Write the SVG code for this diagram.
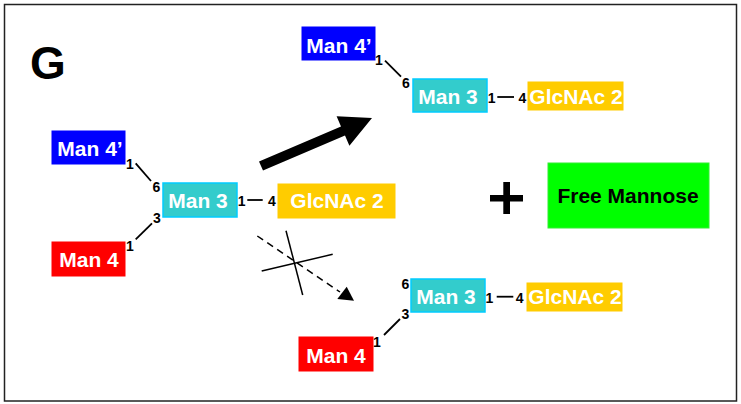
<svg xmlns="http://www.w3.org/2000/svg" width="741" height="404" viewBox="0 0 741 404">
<defs>
<style>
.t{font-family:"Liberation Sans",Arial,sans-serif;font-weight:bold;font-size:21px;fill:#fff;text-anchor:middle}
.n{font-family:"Liberation Sans",Arial,sans-serif;font-weight:bold;font-size:14px;fill:#000;text-anchor:middle}
.blue{fill:#0000FF;stroke:#0000FF}
.red{fill:#FF0000;stroke:#FF0000}
.cyan{fill:#33CCCC;stroke:#00CCFF;stroke-width:1.5}
.yel{fill:#FFCC00;stroke:#FFCC00}
.ln{stroke:#000;stroke-width:1.8;fill:none}
</style>
</defs>
<rect x="0" y="0" width="741" height="404" fill="#fff"/>
<rect x="4.5" y="4.5" width="732" height="396.5" fill="none" stroke="#222" stroke-width="1.5"/>
<text x="30" y="79" font-family="Liberation Sans,Arial,sans-serif" font-weight="bold" font-size="46" fill="#000">G</text>

<g id="left-man4p"><rect class="blue" x="52" y="131" width="73" height="33"/><text class="t" x="90" y="156">Man 4’</text></g>
<g id="left-man3"><rect class="cyan" x="163" y="183" width="74" height="34"/><text class="t" x="198" y="208">Man 3</text></g>
<g id="left-glcnac"><rect class="yel" x="278" y="184" width="117" height="34"/><text class="t" x="337" y="208">GlcNAc 2</text></g>
<g id="left-man4"><rect class="red" x="52" y="242" width="73" height="34"/><text class="t" x="89" y="267">Man 4</text></g>

<g id="top-man4p"><rect class="blue" x="302" y="27" width="73" height="33"/><text class="t" x="339" y="53">Man 4’</text></g>
<g id="top-man3"><rect class="cyan" x="413" y="79" width="74" height="33"/><text class="t" x="448" y="104">Man 3</text></g>
<g id="top-glcnac"><rect class="yel" x="528" y="82" width="95" height="28"/><text class="t" x="576" y="104">GlcNAc 2</text></g>

<g id="bot-man3"><rect class="cyan" x="411" y="279" width="74" height="33"/><text class="t" x="446" y="304">Man 3</text></g>
<g id="bot-glcnac"><rect class="yel" x="527" y="283" width="95" height="28"/><text class="t" x="575" y="304">GlcNAc 2</text></g>
<g id="bot-man4"><rect class="red" x="299" y="337" width="74" height="34"/><text class="t" x="336" y="363">Man 4</text></g>

<g id="free-mannose"><rect x="548" y="163" width="161" height="65" fill="#00FF00" stroke="#33EE33" stroke-width="1"/><text class="t" x="628" y="203" style="fill:#000">Free Mannose</text></g>
<g id="plus"><rect x="490" y="195" width="33" height="6.5" fill="#000"/><rect x="503.3" y="182" width="6.7" height="32" fill="#000"/></g>

<g id="connectors">
<line class="ln" x1="135.7" y1="163.3" x2="151" y2="181"/>
<line class="ln" x1="135.7" y1="239.3" x2="152" y2="223.3"/>
<line class="ln" x1="247.3" y1="200" x2="262.7" y2="200"/>
<line class="ln" x1="385" y1="60.7" x2="401" y2="76.7"/>
<line class="ln" x1="497.3" y1="97" x2="514" y2="97"/>
<line class="ln" x1="384" y1="335" x2="400" y2="319"/>
<line class="ln" x1="496.7" y1="296.7" x2="513.3" y2="296.7"/>
<polygon points="263,170.6 259,161.4 341,126.4 336.6,116.3 372,118 349.4,145.7 345,135.6" fill="#000"/>
<line x1="257.3" y1="236" x2="340" y2="292" stroke="#000" stroke-width="1.5" stroke-dasharray="7,5"/>
<polygon points="354,300.7 337.3,299 346.7,286.7" fill="#000"/>
<line x1="286" y1="230.7" x2="302.7" y2="295" stroke="#000" stroke-width="1.5"/>
<line x1="261.7" y1="271" x2="332.7" y2="254.3" stroke="#000" stroke-width="1.5"/>
</g>

<g id="linkage-labels">
<text class="n" x="130" y="168.5">1</text>
<text class="n" x="156.5" y="192">6</text>
<text class="n" x="157" y="222.5">3</text>
<text class="n" x="130" y="251">1</text>
<text class="n" x="241.7" y="206">1</text>
<text class="n" x="272" y="206">4</text>
<text class="n" x="379" y="64.5">1</text>
<text class="n" x="406" y="88">6</text>
<text class="n" x="491.7" y="103">1</text>
<text class="n" x="522.5" y="103">4</text>
<text class="n" x="405.5" y="288.5">6</text>
<text class="n" x="405.5" y="318.5">3</text>
<text class="n" x="377" y="346.5">1</text>
<text class="n" x="489.5" y="302.5">1</text>
<text class="n" x="519.7" y="302.5">4</text>
</g>
</svg>
